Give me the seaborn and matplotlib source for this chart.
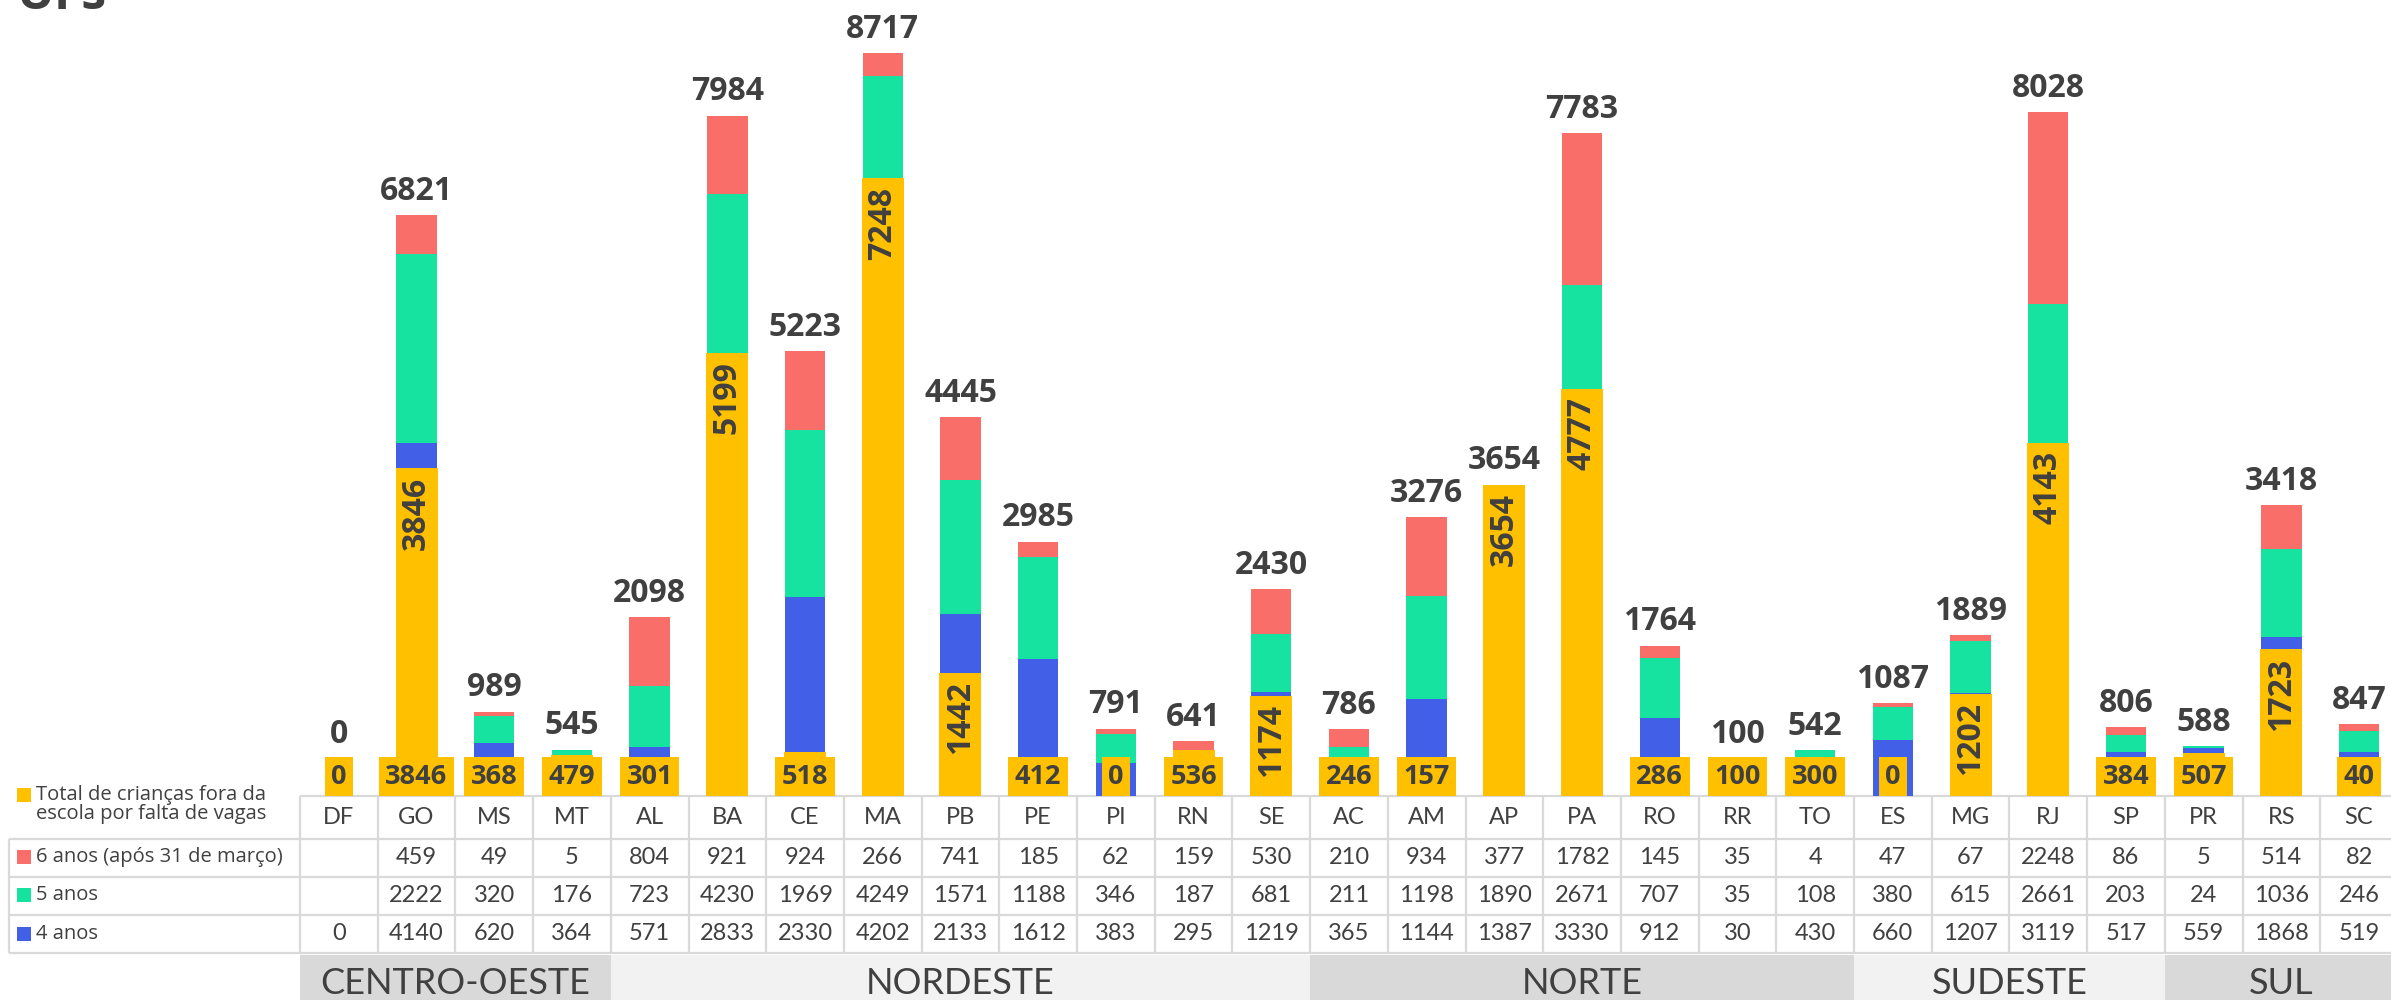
import numpy as np
import matplotlib
matplotlib.use("Agg")
import matplotlib.pyplot as plt
from matplotlib.patches import Rectangle
import seaborn as sns

# Dados por UF (tabela do gráfico)
ufs = ['DF', 'GO', 'MS', 'MT', 'AL', 'BA', 'CE', 'MA', 'PB', 'PE', 'PI', 'RN', 'SE',
       'AC', 'AM', 'AP', 'PA', 'RO', 'RR', 'TO', 'ES', 'MG', 'RJ', 'SP', 'PR', 'RS', 'SC']
anos6 = [None, 459, 49, 5, 804, 921, 924, 266, 741, 185, 62, 159, 530,
         210, 934, 377, 1782, 145, 35, 4, 47, 67, 2248, 86, 5, 514, 82]
anos5 = [None, 2222, 320, 176, 723, 4230, 1969, 4249, 1571, 1188, 346, 187, 681,
         211, 1198, 1890, 2671, 707, 35, 108, 380, 615, 2661, 203, 24, 1036, 246]
anos4 = [0, 4140, 620, 364, 571, 2833, 2330, 4202, 2133, 1612, 383, 295, 1219,
         365, 1144, 1387, 3330, 912, 30, 430, 660, 1207, 3119, 517, 559, 1868, 519]
total_fora = [0, 3846, 368, 479, 301, 5199, 518, 7248, 1442, 412, 0, 536, 1174,
              246, 157, 3654, 4777, 286, 100, 300, 0, 1202, 4143, 384, 507, 1723, 40]
rotulo_base = ['0', '3846', '368', '479', '301', '', '518', '', '', '412', '0', '536', '',
               '246', '157', '', '', '286', '100', '300', '0', '', '', '384', '507', '', '40']
regioes = ['CENTRO-OESTE', 'NORDESTE', 'NORTE', 'SUDESTE', 'SUL']
n_por_regiao = [4, 9, 7, 4, 3]
cor_regiao = ['#d9d9d9', '#f2f2f2', '#d9d9d9', '#f2f2f2', '#d9d9d9']

AMARELO = '#FFC000'
VERMELHO = '#F96E69'
VERDE = '#17E3A0'
AZUL = '#425FE8'
TXT = '#404040'
LINHA = '#d9d9d9'

sns.set_style('white')
plt.rcParams['font.family'] = ['Open Sans', 'DejaVu Sans']

W, H = 2391, 1000
fig = plt.figure(figsize=(W / 100, H / 100), dpi=100)

# layout em pixels
base_px = 796
col0 = 300
col_w = 77.7
px_por_unid = 0.0852

ax = fig.add_axes([col0 / W, (H - base_px) / H, (W - col0) / W, base_px / H])

a4 = np.nan_to_num(np.array(anos4, dtype=float))
a5 = np.nan_to_num(np.array(anos5, dtype=float))
a6 = np.nan_to_num(np.array(anos6, dtype=float))
totais = a4 + a5 + a6

# barras empilhadas (desenhadas como cumulativas sobrepostas)
sns.barplot(x=ufs, y=a4 + a5 + a6, order=ufs, color=VERMELHO, saturation=1,
            width=0.52, linewidth=0, errorbar=None, ax=ax)
sns.barplot(x=ufs, y=a4 + a5, order=ufs, color=VERDE, saturation=1,
            width=0.52, linewidth=0, errorbar=None, ax=ax)
sns.barplot(x=ufs, y=a4, order=ufs, color=AZUL, saturation=1,
            width=0.52, linewidth=0, errorbar=None, ax=ax)
sns.barplot(x=ufs, y=total_fora, order=ufs, color=AMARELO, saturation=1,
            width=0.54, linewidth=0, errorbar=None, ax=ax)

ax.set_xlim(-0.5, -0.5 + (W - col0) / col_w)
ax.set_ylim(0, base_px / px_por_unid)
ax.axis('off')

for i, t in enumerate(totais):
    ax.annotate(f'{int(t)}', (i, max(t, 440)), xytext=(0, 11), textcoords='offset points',
                ha='center', va='baseline', fontsize=23, fontweight='bold', color=TXT,
                annotation_clip=False)

for i, v in enumerate(total_fora):
    if v >= 1000:
        ax.annotate(f'{v}', (i, v), xytext=(0, -6), textcoords='offset points',
                    rotation=90, ha='center', va='top', fontsize=23, fontweight='bold',
                    color=TXT, zorder=6,
                    bbox=dict(boxstyle='square,pad=0.1', fc=AMARELO, ec='none'))

for i, s in enumerate(rotulo_base):
    if s:
        ax.annotate(s, (i, 0), xytext=(0, 4.5), textcoords='offset points',
                    ha='center', va='bottom', fontsize=19.5, fontweight='bold', color=TXT,
                    zorder=7, annotation_clip=False,
                    bbox=dict(boxstyle='square,pad=0.24', fc=AMARELO, ec='none'))

# tabela inferior
axt = fig.add_axes([0, 0, 1, 1], zorder=-1)
axt.set_xlim(0, W)
axt.set_ylim(H, 0)
axt.axis('off')

linhas_y = [796, 839, 877, 915, 953]
n = len(ufs)
x_fim = col0 + n * col_w
axt.hlines(linhas_y[0], col0, x_fim, color=LINHA, lw=1.6)
axt.hlines(linhas_y[1:], 9, x_fim, color=LINHA, lw=1.6)
axt.vlines(9, linhas_y[1], linhas_y[-1], color=LINHA, lw=1.6)
axt.vlines([col0 + k * col_w for k in range(n + 1)], linhas_y[0], linhas_y[-1],
           color=LINHA, lw=1.6)

fonte_tab = ['Lato', 'DejaVu Sans']
centros_y = [817.5, 858, 896, 934]
for i, uf in enumerate(ufs):
    xc = col0 + (i + 0.5) * col_w
    axt.text(xc, centros_y[0], uf, ha='center', va='center', fontsize=17, color=TXT,
             family=fonte_tab)
    for r, serie in enumerate([anos6, anos5, anos4]):
        v = serie[i]
        if v is not None:
            axt.text(xc, centros_y[r + 1], f'{v}', ha='center', va='center', fontsize=17,
                     color=TXT, family=fonte_tab)

# faixas das regiões
x = col0
for nome, k, c in zip(regioes, n_por_regiao, cor_regiao):
    axt.add_patch(Rectangle((x, 955), k * col_w, 50, fc=c, ec='none'))
    axt.text(x + k * col_w / 2, 984, nome, ha='center', va='center', fontsize=26,
             color=TXT, family=fonte_tab)
    x += k * col_w

# legenda à esquerda
leg = [(AMARELO, 795, 'Total de crianças fora da\nescola por falta de vagas'),
       (VERMELHO, 857, '6 anos (após 31 de março)'),
       (VERDE, 895, '5 anos'),
       (AZUL, 934, '4 anos')]
for c, yc, txt in leg:
    axt.add_patch(Rectangle((17, yc - 7), 14, 14, fc=c, ec='none'))
    axt.text(36, yc if '\n' not in txt else yc - 10, txt, ha='left',
             va='center' if '\n' not in txt else 'top', fontsize=14.5, color=TXT,
             linespacing=0.95)

# título cortado no topo
fig.text(0.007, 0.991, 'UFs', fontsize=36, fontweight='bold', color=TXT, va='baseline')

fig.savefig('out.png', dpi=100)
